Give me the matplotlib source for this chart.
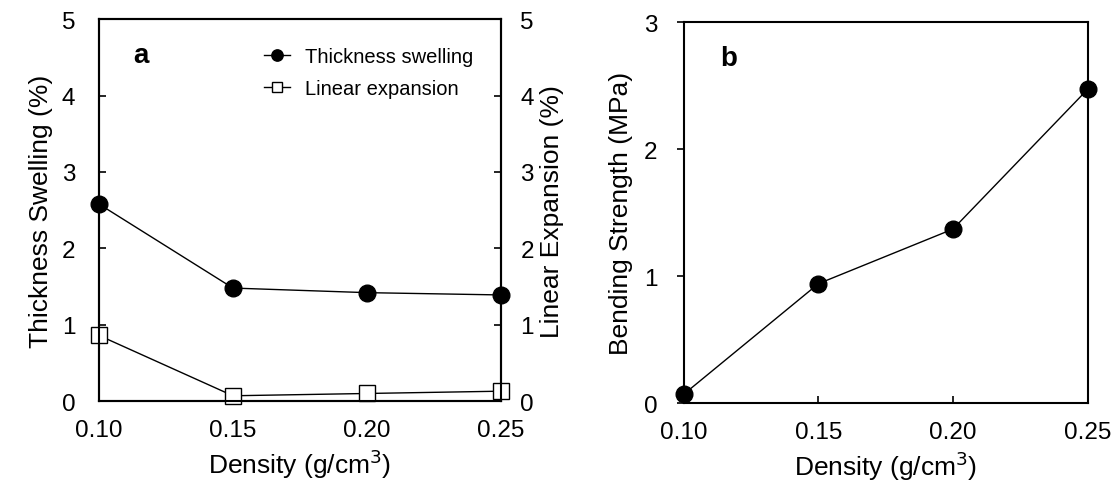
import matplotlib.pyplot as plt

plt.rcParams['font.family'] = ['Liberation Sans', 'DejaVu Sans']

# data
density = [0.10, 0.15, 0.20, 0.25]
thickness_swelling = [2.58, 1.48, 1.42, 1.39]
linear_expansion = [0.86, 0.07, 0.10, 0.13]
bending_strength = [0.07, 0.94, 1.37, 2.47]

fig = plt.figure(figsize=(11.12, 4.81), dpi=100)

# panel a
ax1 = fig.add_axes([0.089, 0.164, 0.3615, 0.794])
ax1.plot(density, thickness_swelling, color='black', lw=1, marker='o', ms=12,
         mfc='black', mec='black', label='Thickness swelling', clip_on=False, zorder=3)
ax1.plot(density, linear_expansion, color='black', lw=1, marker='s', ms=11.5,
         mfc='white', mec='black', mew=1, label='Linear expansion', clip_on=False, zorder=3)
ax1.set_xlim(0.10, 0.25)
ax1.set_ylim(0, 5)
ax1.set_xticks(density)
ax1.set_xticklabels(['0.10', '0.15', '0.20', '0.25'])
ax1.set_yticks([0, 1, 2, 3, 4, 5])
ax1.tick_params(axis='both', direction='in', labelsize=17.5, length=5, width=1.2)
ax1.tick_params(axis='x', pad=13)
ax1.tick_params(axis='y', pad=17)
ax1.set_xlabel('Density (g/cm$^3$)', fontsize=19, labelpad=4)
ax1.set_ylabel('Thickness Swelling (%)', fontsize=19, labelpad=6)
ax1.text(0.085, 0.905, 'a', transform=ax1.transAxes, fontsize=20, fontweight='bold',
         va='center', ha='left')
ax1.legend(loc='upper right', bbox_to_anchor=(0.975, 0.975), frameon=False, fontsize=14.5,
           markerscale=0.68, handlelength=1.3, handletextpad=0.7, labelspacing=0.65)

ax2 = ax1.twinx()
ax2.set_ylim(0, 5)
ax2.set_yticks([0, 1, 2, 3, 4, 5])
ax2.tick_params(axis='y', direction='in', labelsize=17.5, length=5, width=1.2, pad=14)
ax2.set_ylabel('Linear Expansion (%)', fontsize=19, labelpad=4)

for ax in (ax1, ax2):
    for s in ax.spines.values():
        s.set_linewidth(1.5)

# panel b
ax3 = fig.add_axes([0.615, 0.160, 0.363, 0.792])
ax3.plot(density, bending_strength, color='black', lw=1, marker='o', ms=12,
         mfc='black', mec='black', clip_on=False, zorder=3)
ax3.set_xlim(0.10, 0.25)
ax3.set_ylim(0, 3)
ax3.set_xticks(density)
ax3.set_xticklabels(['0.10', '0.15', '0.20', '0.25'])
ax3.set_yticks([0, 1, 2, 3])
ax3.tick_params(axis='x', direction='in', labelsize=17.5, length=5, width=1.2, pad=13)
ax3.tick_params(axis='y', direction='out', labelsize=17.5, length=5, width=1.2, pad=14)
ax3.set_xlabel('Density (g/cm$^3$)', fontsize=19, labelpad=4)
ax3.set_ylabel('Bending Strength (MPa)', fontsize=19, labelpad=8)
ax3.text(0.09, 0.905, 'b', transform=ax3.transAxes, fontsize=20, fontweight='bold',
         va='center', ha='left')
for s in ax3.spines.values():
    s.set_linewidth(1.5)

fig.savefig('out.png', dpi=100)
